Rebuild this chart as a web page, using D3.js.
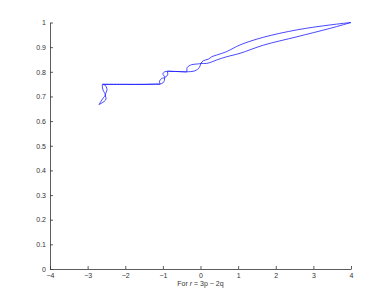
<!DOCTYPE html>
<html>
<head>
<meta charset="utf-8">
<script src="https://cdn.jsdelivr.net/npm/d3@7"></script>
<style>
	body { margin: 0; background: #fff; }
	.axis path, .axis line { stroke: #333; }
	.axis text { font-family: "Liberation Sans", Arial, sans-serif; font-size: 7px; fill: #333; }
</style>
</head>
<body>
<script>
// branch A of the loop (goes up first after x = -0.37, ends as the lower arc)
var branchAX = [-2.70, -2.645, -2.58, -2.53, -2.59, -2.61, -2.60, -2.55, -2.0, -1.5, -1.13, -1.08, -1.09, -1.03, -0.95, -1.0, -0.95, -0.88, -0.83, -0.6, -0.42, -0.37,
	-0.351, -0.234, -0.058, 0.013, 0.165, 0.298, 0.431, 0.696, 1.05, 1.67, 2.56, 3.44, 4.0];
var branchAY = [0.667, 0.68, 0.695, 0.706, 0.726, 0.742, 0.749, 0.749, 0.749, 0.749, 0.75, 0.75, 0.762, 0.773, 0.777, 0.792, 0.80, 0.802, 0.802, 0.801, 0.80, 0.80,
	0.818, 0.829, 0.832, 0.834, 0.834, 0.840, 0.848, 0.861, 0.875, 0.908, 0.942, 0.976, 1.0];
// branch B (ends as the upper arc)
var branchBX = [-2.70, -2.56, -2.51, -2.53, -2.485, -2.54, -2.60, -2.55, -2.0, -1.5, -1.13, -1.08, -1.0, -0.96, -0.95, -0.88, -0.87, -0.88, -0.83, -0.6, -0.42, -0.37,
	-0.146, -0.032, 0.013, 0.074, 0.207, 0.298, 0.431, 0.696, 1.05, 1.67, 2.56, 3.44, 4.0];
var branchBY = [0.667, 0.68, 0.69, 0.706, 0.729, 0.746, 0.749, 0.749, 0.749, 0.749, 0.75, 0.75, 0.755, 0.765, 0.777, 0.785, 0.795, 0.802, 0.802, 0.801, 0.80, 0.80,
	0.804, 0.817, 0.834, 0.845, 0.851, 0.861, 0.868, 0.882, 0.909, 0.940, 0.970, 0.990, 1.0];

var xTicks = [-4, -3, -2, -1, 0, 1, 2, 3, 4];
var yTicks = [0, 0.1, 0.2, 0.3, 0.4, 0.5, 0.6, 0.7, 0.8, 0.9, 1];

var margin = { top: 22.5, right: 37, bottom: 34, left: 50 },
	width = 388 - margin.left - margin.right,
	height = 303 - margin.top - margin.bottom;

var svg = d3.select("body").append("svg")
	.attr("width", 388)
	.attr("height", 303)
	.append("g")
	.attr("transform", "translate(" + margin.left + "," + margin.top + ")");

var xScale = d3.scaleLinear().domain([-4, 4]).range([0, width]);
var yScale = d3.scaleLinear().domain([0, 1]).range([height, 0]);

// matlab style axes: ticks point inward
svg.append("g")
	.attr("class", "x axis")
	.attr("transform", "translate(0," + height + ")")
	.call(d3.axisBottom(xScale).tickValues(xTicks).tickSizeInner(-3).tickSizeOuter(0).tickPadding(4).tickFormat(d3.format("d")));

svg.append("g")
	.attr("class", "y axis")
	.call(d3.axisLeft(yScale).tickValues(yTicks).tickSizeInner(-3).tickSizeOuter(0).tickPadding(4).tickFormat(function (d) { return d3.format("")(d); }));

svg.selectAll(".axis path").attr("stroke-width", 0.8);
svg.selectAll(".axis line").attr("stroke-width", 0.8);

// x label
var lbl = svg.append("text")
	.attr("x", width / 2)
	.attr("y", height + 17)
	.attr("text-anchor", "middle")
	.attr("font-family", "Liberation Sans, Arial, sans-serif")
	.attr("font-size", "7px")
	.attr("fill", "#333");
lbl.append("tspan").text("For ");
lbl.append("tspan").attr("font-style", "italic").text("r");
lbl.append("tspan").text(" = 3p \u2212 2q");

var line = d3.line()
	.x(function (d) { return xScale(d[0]); })
	.y(function (d) { return yScale(d[1]); })
	.curve(d3.curveCatmullRom.alpha(0.5));

var branches = [d3.zip(branchAX, branchAY), d3.zip(branchBX, branchBY)];

svg.selectAll(".branch")
	.data(branches)
	.enter()
	.append("path")
	.attr("class", "branch")
	.attr("d", line)
	.attr("fill", "none")
	.attr("stroke", "#1a1aff")
	.attr("stroke-width", 0.8);
</script>
</body>
</html>
